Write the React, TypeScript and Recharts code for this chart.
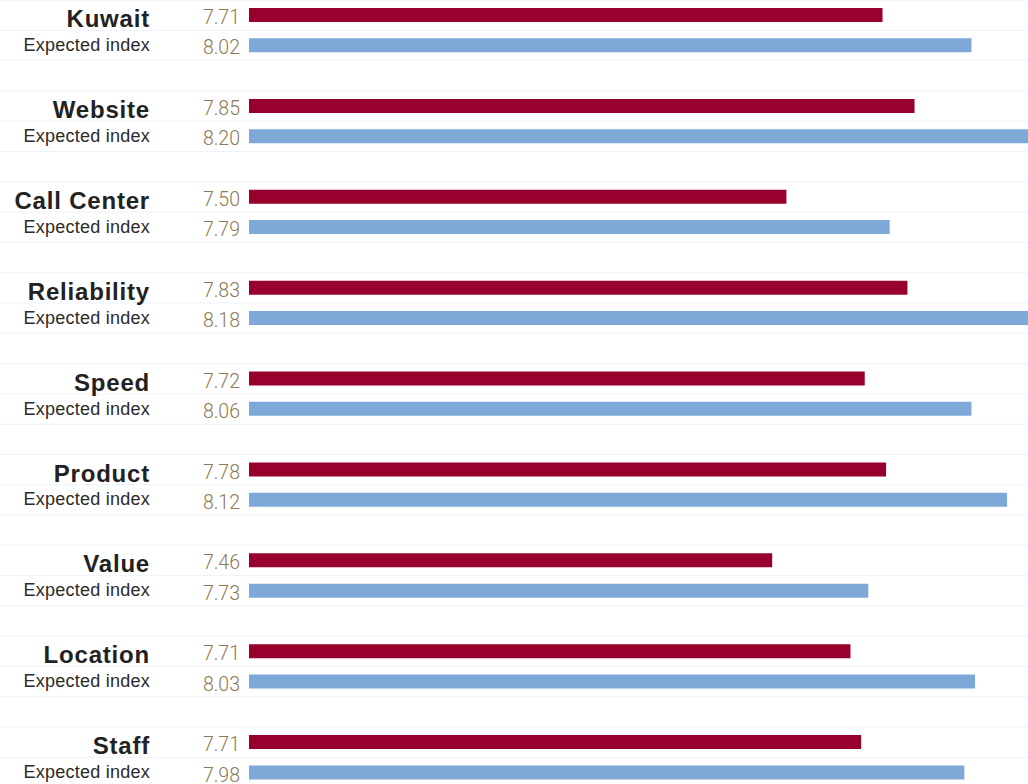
import { Bar, BarChart, CartesianGrid, Cell, XAxis, YAxis } from 'recharts';

const categories = ['Kuwait', 'Website', 'Call Center', 'Reliability', 'Speed', 'Product', 'Value', 'Location', 'Staff'];
// printed labels
const actualLabels = ['7.71', '7.85', '7.50', '7.83', '7.72', '7.78', '7.46', '7.71', '7.71'];
const expectedLabels = ['8.02', '8.20', '7.79', '8.18', '8.06', '8.12', '7.73', '8.03', '7.98'];
// bar ends as drawn
const actualBars = [7.78, 7.87, 7.51, 7.85, 7.73, 7.79, 7.47, 7.69, 7.72];
const expectedBars = [8.03, 8.2, 7.8, 8.2, 8.03, 8.13, 7.74, 8.04, 8.01];

const RED = '#98002e';
const BLUE = '#7ea8d8';
const TAN = '#8c7853';
const GRID = '#edf3f9';

type Row = { key: string; kind: 'actual' | 'expected' | 'gap'; name: string; label: string; bar: number | null };

const rows: Row[] = [];
categories.forEach((c, i) => {
  rows.push({ key: c + '-a', kind: 'actual', name: c, label: actualLabels[i], bar: actualBars[i] });
  rows.push({ key: c + '-e', kind: 'expected', name: 'Expected index', label: expectedLabels[i], bar: expectedBars[i] });
  rows.push({ key: c + '-g', kind: 'gap', name: '', label: '', bar: null });
});
const byKey: Record<string, Row> = {};
rows.forEach((r) => (byKey[r.key] = r));

function RowTick(props: any) {
  const { y, payload } = props;
  const r = byKey[payload.value];
  if (!r || r.kind === 'gap') return null;
  if (r.kind === 'actual') {
    return (
      <g>
        <text x={150} y={y + 12} textAnchor="end" fill="#222" fontFamily="'Liberation Sans', Arial, sans-serif" fontWeight={700} fontSize={24} letterSpacing={0.8}>
          {r.name}
        </text>
        <text x={240} y={y + 9} textAnchor="end" fill={TAN} fontFamily="Roboto, 'Liberation Sans', sans-serif" fontWeight={300} fontSize={19.5}>
          {r.label}
        </text>
      </g>
    );
  }
  return (
    <g>
      <text x={150} y={y + 5.5} textAnchor="end" fill="#2b2b2b" fontFamily="'Liberation Sans', Arial, sans-serif" fontSize={18} letterSpacing={0.25}>
        {r.name}
      </text>
      <text x={240} y={y + 9} textAnchor="end" fill={TAN} fontFamily="Roboto, 'Liberation Sans', sans-serif" fontWeight={300} fontSize={19.5}>
        {r.label}
      </text>
    </g>
  );
}

const rowLines = ({ offset }: any) => {
  const out: number[] = [];
  for (let i = 0; i <= rows.length; i++) out.push(offset.top + (i * offset.height) / rows.length);
  return out;
};

export default function App() {
  return (
    <div style={{ width: 1028, height: 784, overflow: 'hidden', background: '#fff' }}>
      <style>{'body{margin:0}'}</style>
      <BarChart width={1032} height={818} data={rows} layout="vertical" margin={{ top: 0, right: 0, bottom: 0, left: 0 }} barSize={14}>
        <CartesianGrid vertical={false} stroke={GRID} x={0} width={1032} horizontalCoordinatesGenerator={rowLines} />
        <XAxis type="number" domain={[6, 8.2]} allowDataOverflow hide />
        <YAxis type="category" dataKey="key" width={249} axisLine={false} tickLine={false} interval={0} tick={<RowTick />} />
        <Bar dataKey="bar" isAnimationActive={false}>
          {rows.map((r) => (
            <Cell key={r.key} fill={r.kind === 'actual' ? RED : BLUE} />
          ))}
        </Bar>
      </BarChart>
    </div>
  );
}
